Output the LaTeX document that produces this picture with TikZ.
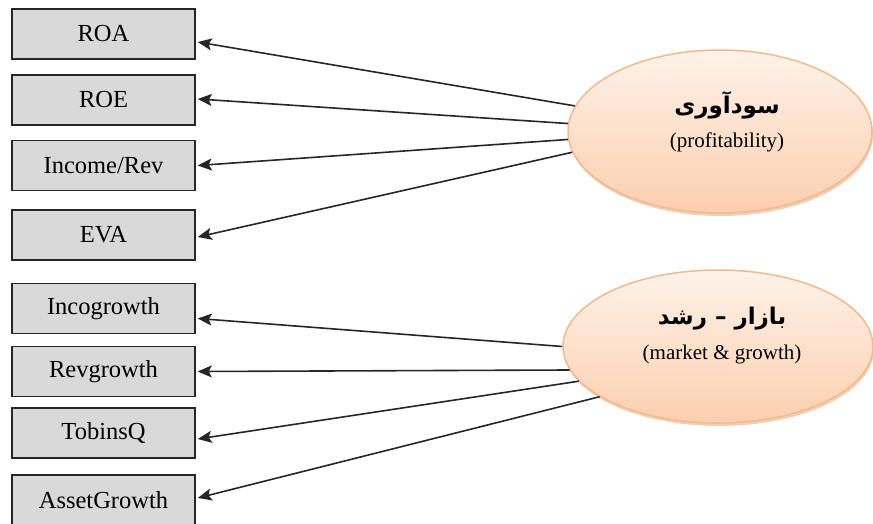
\documentclass[tikz,border=0pt]{standalone}
\usepackage{fontspec}
\setmainfont{Liberation Serif}
\newfontfamily\fafont[Script=Arabic]{DejaVu Sans}
\TeXXeTstate=1
\usetikzlibrary{shapes.geometric,arrows.meta,shadows}
\definecolor{boxgray}{HTML}{D9D9D9}
\definecolor{ovaltop}{HTML}{FEF2E9}
\definecolor{ovalbot}{HTML}{FBCFAE}
\definecolor{ovalline}{HTML}{F4B98C}
\definecolor{ovalshadow}{HTML}{D9955F}
\begin{document}
\begin{tikzpicture}[x=1pt,y=-1pt,
 box/.style={draw=black!85, line width=1.5pt, fill=boxgray, minimum width=183pt, minimum height=50pt, inner sep=0pt, font=\fontsize{24.5}{28}\selectfont},
 oval/.style={ellipse, draw=ovalline, line width=1.5pt, top color=ovaltop, bottom color=ovalbot, inner sep=0pt,
   drop shadow={shadow xshift=1pt, shadow yshift=-3pt, opacity=0.45, fill=ovalshadow}},
 fatext/.style={font=\fafont\bfseries\fontsize{23}{27}\selectfont},
 entext/.style={font=\fontsize{21}{24}\selectfont},
 arr/.style={line width=1.6pt, draw=black!85, -{Stealth[length=14pt,width=12pt,inset=3pt]}}
]
\useasboundingbox (0,0) rectangle (873,524);

% boxes
\node[box] (roa) at (103.5,34) {ROA};
\node[box] (roe) at (103.5,100) {ROE};
\node[box] (inc) at (103.5,165.5) {Income/Rev};
\node[box] (eva) at (103.5,235) {EVA};
\node[box] (incg) at (103.5,308.5) {Incogrowth};
\node[box] (revg) at (103.5,371.5) {Revgrowth};
\node[box] (tob) at (103.5,433) {TobinsQ};
\node[box] (ast) at (103.5,500) {AssetGrowth};

% ellipses
\node[oval, minimum width=304pt, minimum height=163pt] (prof) at (720,131.5) {};
\node[oval, minimum width=310pt, minimum height=153pt] (mkt) at (718,346.5) {};

\node[fatext] (proft) at (727,105) {\beginR سودآوری\endR};
\node[entext] (profe) at (727,142) {(profitability)};
\node[fatext] (mktt) at (722,319) {\beginR بازار – رشد\endR};
\node[entext] (mkte) at (722,354) {(market \& growth)};

% connectors
\draw[arr] (prof.170.5) -- ([xshift=2pt,yshift=-8pt]roa.east);
\draw[arr] (prof.177) -- ([xshift=2pt,yshift=1pt]roe.east);
\draw[arr] (prof.183) -- ([xshift=2pt]inc.east);
\draw[arr] (prof.188) -- ([xshift=2pt,yshift=-2pt]eva.east);

\draw[arr] (mkt.180) -- ([xshift=2pt,yshift=-10pt]incg.east);
\draw[arr] (mkt.189.5) -- ([xshift=2pt]revg.east);
\draw[arr] (mkt.194) -- ([xshift=2pt,yshift=-6pt]tob.east);
\draw[arr] (mkt.203) -- ([xshift=2pt,yshift=2pt]ast.east);
\end{tikzpicture}
\end{document}
